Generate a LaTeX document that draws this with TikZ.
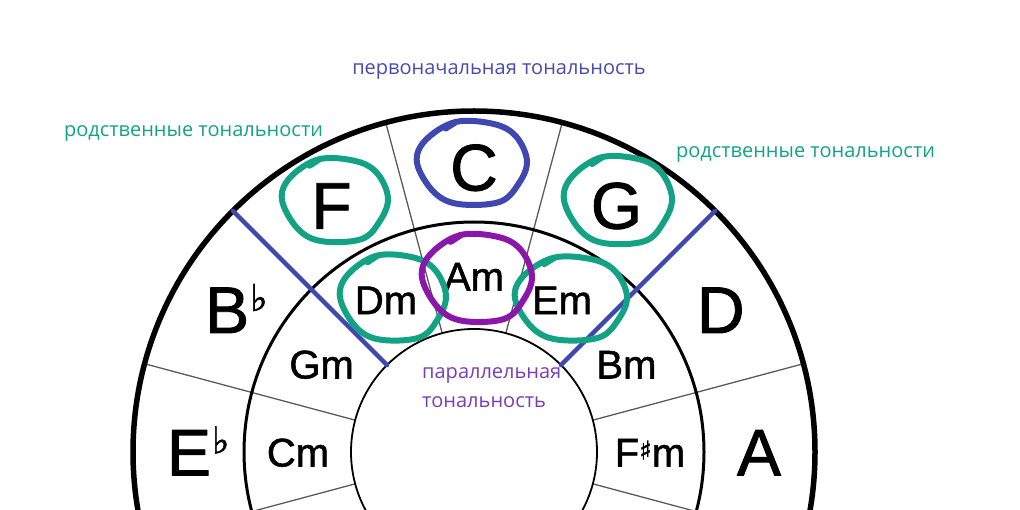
\documentclass[tikz,border=0pt]{standalone}
\usepackage{fontspec}
\setmainfont{Liberation Sans}
\newfontfamily\letrafont[FakeBold=1.3]{Liberation Sans}
\newfontfamily\notafont{Open Sans}
\newfontfamily\signofont[FakeBold=1.5]{DejaVu Sans}
\usetikzlibrary{calc}
\definecolor{verde}{HTML}{13A384}
\definecolor{azul}{HTML}{3F48B0}
\definecolor{morado}{HTML}{8B17AA}
\definecolor{textoazul}{HTML}{4A4AAF}
\definecolor{textomorado}{HTML}{7A3DB8}
\definecolor{gris}{HTML}{5A5A5A}
\newcommand\bemol{\rlap{\kern1pt\raisebox{22pt}{\signofont\fontsize{37}{37}\selectfont ♭}}}
\newcommand\sostenido{\raisebox{7pt}{\signofont\fontsize{26}{26}\selectfont ♯}}
% el lazo a mano: color, centro, semiancho, semialto
\newcommand\lazo[4]{%
  \draw[trazo, #1, shift={#2}, x=#3pt, y=#4pt]
    plot[smooth cycle, tension=0.6] coordinates {(-0.3,1.0) (0.4,0.95) (0.8,0.65) (1.0,0.05)
      (0.85,-0.5) (0.5,-0.95) (-0.25,-1.0) (-0.7,-0.7) (-1.0,0.0) (-0.85,0.55)}
    (-0.48,0.84) -- (-0.3,0.99);
}
\begin{document}
\begin{tikzpicture}[x=1pt, y=1pt, line cap=round, line join=round,
    mayor/.style={font=\letrafont\fontsize{66}{66}\selectfont, text height=47pt, text depth=0pt, inner sep=0pt},
    menor/.style={font=\letrafont\fontsize{40}{40}\selectfont, text height=29pt, text depth=0pt, inner sep=0pt},
    radio/.style={gris, line width=1.3pt},
    trazo/.style={line width=6pt},
    nota/.style={font=\notafont\fontsize{20}{24}\selectfont, inner sep=0pt, anchor=base}]
  \useasboundingbox (0,0) rectangle (1020,509);
  \clip (0,0) rectangle (1020,509);
  \coordinate (O) at (474,57);
  % los radios entre tonalidades
  \foreach \a in {15,45,...,165,195,345}
    \draw[radio] ($(O)+(\a:123)$) -- ($(O)+(\a:341)$);
  % los tres circulos
  \draw[line width=5.5pt] (O) circle (341pt);
  \draw[line width=3pt] (O) circle (230pt);
  \draw[line width=1.8pt] (O) circle (123pt);
  % tonalidades mayores, anillo de fuera
  \node[mayor] (C) at ($(O)+(90:285)$) {C};
  \node[mayor] (F) at ($(O)+(120:285)$) {F};
  \node[mayor] (G) at ($(O)+(60:285)$) {G};
  \node[mayor] (Bb) at ($(O)+(150:285)$) {B\bemol};
  \node[mayor] (D) at ($(O)+(30:285)$) {D};
  \node[mayor] (Eb) at ($(O)+(180:285)$) {E\bemol};
  \node[mayor] (A) at ($(O)+(0:285)$) {A};
  % tonalidades menores, anillo de dentro
  \node[menor] (Am) at ($(O)+(90:176)$) {Am};
  \node[menor] (Dm) at ($(O)+(120:176)$) {Dm};
  \node[menor] (Em) at ($(O)+(60:176)$) {Em};
  \node[menor] (Gm) at ($(O)+(150:176)$) {Gm};
  \node[menor] (Bm) at ($(O)+(30:176)$) {Bm};
  \node[menor] (Cm) at ($(O)+(180:176)$) {Cm};
  \node[menor] (Fism) at ($(O)+(0:176)$) {F\sostenido m};
  % las dos rayas azules
  \draw[azul, line width=4.5pt] ($(O)+(135:123)$) -- ($(O)+(135:341)$);
  \draw[azul, line width=4.5pt] ($(O)+(45:123)$) -- ($(O)+(45:341)$);
  % los lazos
  \lazo{azul}{($(C)+(-2,4)$)}{55}{41}
  \lazo{verde}{($(F)+(3.5,5)$)}{53}{41}
  \lazo{verde}{($(G)+(1.5,5)$)}{54}{43}
  \lazo{verde}{($(Dm)+(7,2)$)}{53}{42}
  \lazo{verde}{($(Em)+(9,1)$)}{56}{41}
  \lazo{morado}{($(Am)+(3,-2)$)}{55}{43}
  % los textos
  \node[nota, text=textoazul] (orig) at (499,434) {первоначальная тональность};
  \node[nota, text=verde] (rel1) at (193.5,372) {родственные тональности};
  \node[nota, text=verde] (rel2) at (805.5,351) {родственные тональности};
  \node[nota, text=textomorado, anchor=base west] (par1) at (422,130) {параллельная};
  \node[nota, text=textomorado, anchor=base west] (par2) at (422,102) {тональность};
\end{tikzpicture}
\end{document}
